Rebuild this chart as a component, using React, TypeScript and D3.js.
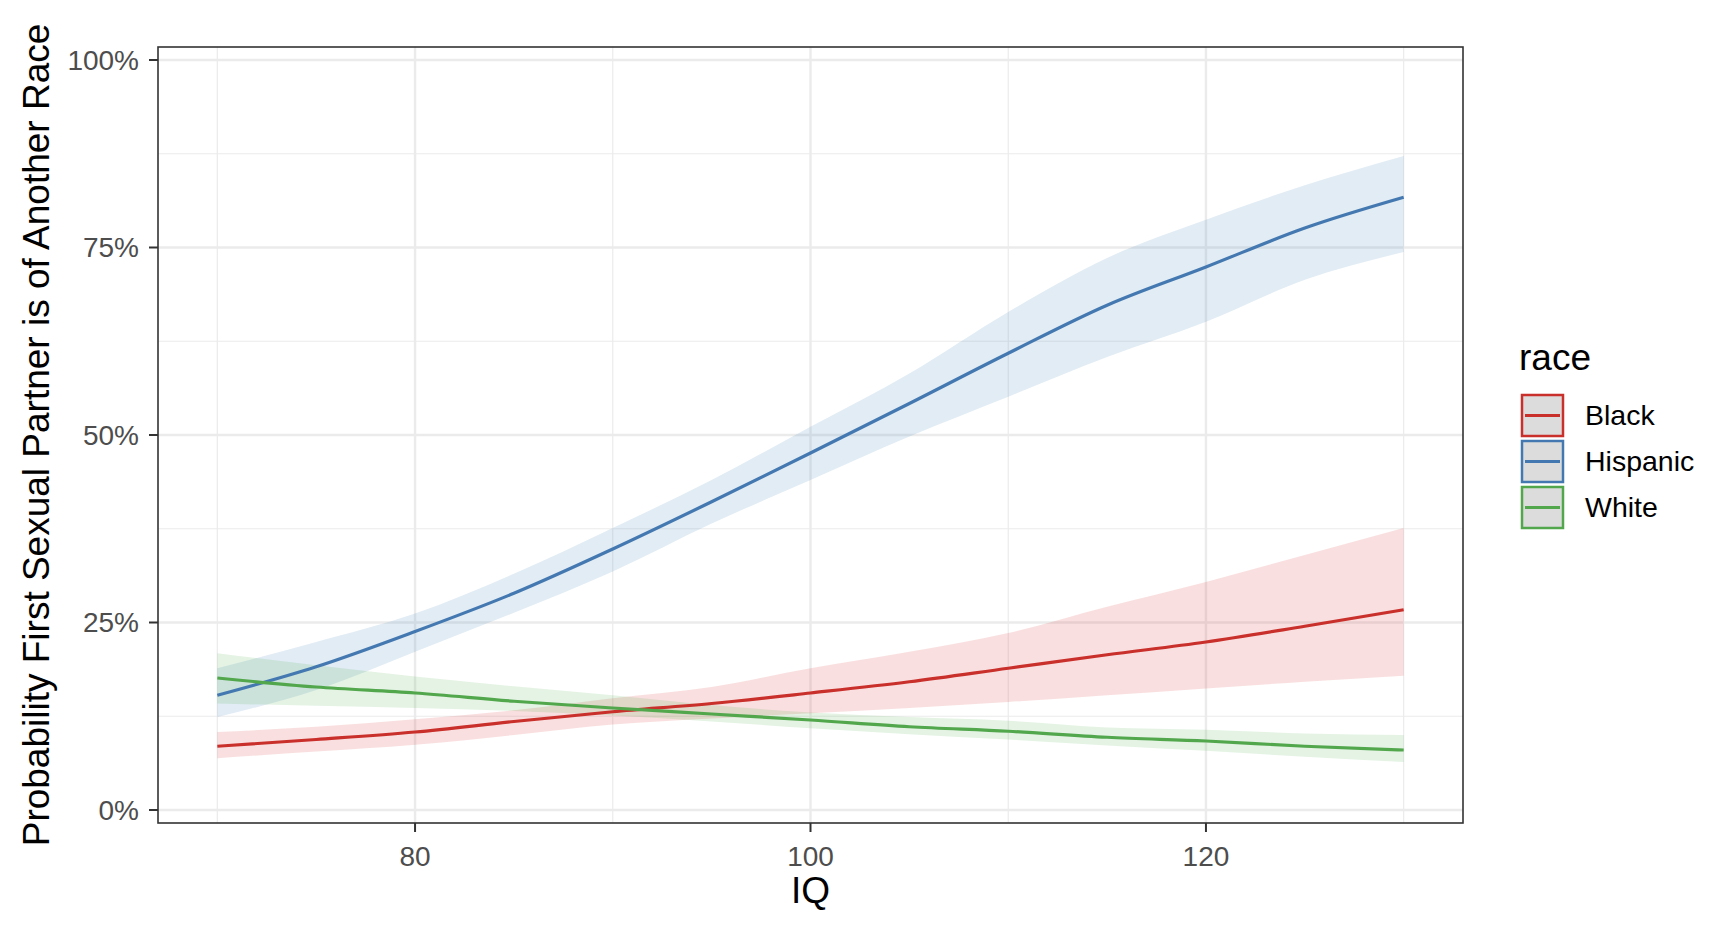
import React from 'react';
import * as d3 from 'd3';

// values (percent)
const iq = [70, 75, 80, 85, 90, 95, 100, 105, 110, 115, 120, 125, 130];

const blackFit = [8.5, 9.4, 10.4, 11.8, 13.1, 14.2, 15.6, 17.1, 18.9, 20.7, 22.4, 24.5, 26.7];
const blackLo = [6.9, 7.8, 8.7, 10.0, 11.4, 12.2, 12.9, 13.6, 14.4, 15.3, 16.2, 17.1, 17.9];
const blackHi = [10.4, 11.1, 12.1, 13.3, 14.9, 16.4, 18.9, 21.1, 23.6, 27.1, 30.4, 34.0, 37.6];

const hispanicFit = [15.3, 19.1, 23.8, 28.9, 34.8, 41.1, 47.6, 54.2, 60.9, 67.3, 72.4, 77.6, 81.7];
const hispanicLo = [12.4, 16.0, 21.1, 26.3, 31.8, 38.2, 44.0, 49.8, 55.1, 60.4, 65.1, 70.7, 74.4];
const hispanicHi = [18.9, 22.4, 26.2, 31.5, 37.6, 44.0, 51.1, 58.2, 66.4, 73.6, 78.7, 83.3, 87.2];

const whiteFit = [17.6, 16.4, 15.6, 14.5, 13.6, 12.8, 12.0, 11.1, 10.5, 9.7, 9.2, 8.5, 8.0];
const whiteLo = [14.2, 13.9, 13.6, 13.2, 12.6, 11.8, 10.9, 10.1, 9.4, 8.6, 7.9, 7.1, 6.4];
const whiteHi = [20.9, 19.3, 17.8, 16.5, 15.3, 14.0, 13.0, 12.4, 11.9, 11.0, 10.7, 10.2, 10.0];

const races = ['Black', 'Hispanic', 'White'];
const fills = ['#D9262A', '#377EB8', '#4DAF4A'];
const lineColors = ['#C92F2B', '#4478B0', '#52A74D'];

const xTicks = [80, 100, 120];
const xMinor = [70, 90, 110, 130];
const yTicks = [0, 0.25, 0.5, 0.75, 1];
const yMinor = [0.125, 0.375, 0.625, 0.875];

const W = 1719;
const H = 928;
const left = 158, right = 1463, top = 47, bottom = 823;
const font = '"Liberation Sans", Arial, sans-serif';

export default function App() {
  const x = d3.scaleLinear().domain([67, 133]).range([left, right]);
  const y = d3.scaleLinear().domain([-0.01733, 1.01733]).range([bottom, top]);

  const series = [
    { fit: blackFit, lo: blackLo, hi: blackHi },
    { fit: hispanicFit, lo: hispanicLo, hi: hispanicHi },
    { fit: whiteFit, lo: whiteLo, hi: whiteHi },
  ];

  const area = d3
    .area<number>()
    .x((_, i) => x(iq[i]))
    .curve(d3.curveMonotoneX);
  const line = d3
    .line<number>()
    .x((_, i) => x(iq[i]))
    .curve(d3.curveMonotoneX);

  const fmt = d3.format('.0%');

  return (
    <svg width={W} height={H} style={{ position: 'absolute', left: 0, top: 0, background: '#fff' }} fontFamily={font}>
      <rect x={0} y={0} width={W} height={H} fill="#fff" />
      {/* grid */}
      {yMinor.map((t) => (
        <line key={'ym' + t} x1={left} x2={right} y1={y(t)} y2={y(t)} stroke="#EBEBEB" strokeWidth={1.2} />
      ))}
      {xMinor.map((t) => (
        <line key={'xm' + t} x1={x(t)} x2={x(t)} y1={top} y2={bottom} stroke="#EBEBEB" strokeWidth={1.2} />
      ))}
      {yTicks.map((t) => (
        <line key={'y' + t} x1={left} x2={right} y1={y(t)} y2={y(t)} stroke="#EBEBEB" strokeWidth={2.4} />
      ))}
      {xTicks.map((t) => (
        <line key={'x' + t} x1={x(t)} x2={x(t)} y1={top} y2={bottom} stroke="#EBEBEB" strokeWidth={2.4} />
      ))}

      {/* ribbons */}
      {series.map((s, k) => (
        <path
          key={'r' + k}
          d={area.y0((_, i) => y(s.lo[i] / 100)).y1((_, i) => y(s.hi[i] / 100))(s.fit) || ''}
          fill={fills[k]}
          fillOpacity={0.15}
        />
      ))}
      {/* lines */}
      {series.map((s, k) => (
        <path
          key={'l' + k}
          d={line.y((v) => y(v / 100))(s.fit) || ''}
          fill="none"
          stroke={lineColors[k]}
          strokeWidth={3.2}
        />
      ))}

      {/* panel border */}
      <rect x={left} y={top} width={right - left} height={bottom - top} fill="none" stroke="#333" strokeWidth={1.6} />

      {/* y axis */}
      {yTicks.map((t) => (
        <g key={'yt' + t}>
          <line x1={left - 9} x2={left} y1={y(t)} y2={y(t)} stroke="#333" strokeWidth={2} />
          <text x={left - 19} y={y(t)} dy="0.35em" textAnchor="end" fontSize={28} fill="#4D4D4D">
            {fmt(t)}
          </text>
        </g>
      ))}
      {/* x axis */}
      {xTicks.map((t) => (
        <g key={'xt' + t}>
          <line x1={x(t)} x2={x(t)} y1={bottom} y2={bottom + 9} stroke="#333" strokeWidth={2} />
          <text x={x(t)} y={bottom + 43} textAnchor="middle" fontSize={28} fill="#4D4D4D">
            {t}
          </text>
        </g>
      ))}

      <text x={(left + right) / 2} y={903} textAnchor="middle" fontSize={37} fill="#000">
        IQ
      </text>
      <text
        transform={`translate(49,${(top + bottom) / 2}) rotate(-90)`}
        textAnchor="middle"
        fontSize={37}
        fill="#000"
      >
        Probability First Sexual Partner is of Another Race
      </text>

      {/* legend */}
      <text x={1519} y={370} fontSize={37} fill="#000">
        race
      </text>
      {races.map((r, k) => {
        const ky = 395 + k * 46;
        return (
          <g key={r}>
            <rect x={1522} y={ky} width={41} height={41} fill="#DCDCDC" stroke={lineColors[k]} strokeWidth={2.5} />
            <line x1={1525} x2={1560} y1={ky + 20.5} y2={ky + 20.5} stroke={lineColors[k]} strokeWidth={3.2} />
            <text x={1585} y={ky + 20.5} dy="0.35em" fontSize={28.5} fill="#000">
              {r}
            </text>
          </g>
        );
      })}
    </svg>
  );
}
